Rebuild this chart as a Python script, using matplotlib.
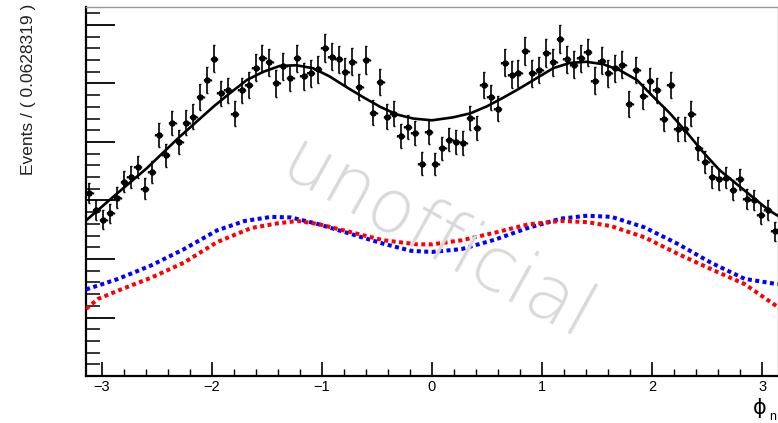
import matplotlib
matplotlib.use("Agg")
import matplotlib.pyplot as plt
import numpy as np

plt.rcParams['font.family'] = ['Liberation Sans', 'DejaVu Sans']

# phi_n histogram, 100 bins over [-pi, pi]
n_bins = 100
counts = [313, 284, 267, 278, 305, 332, 340, 357, 320, 349,
          412, 377, 432, 400, 433, 443, 477, 506, 542, 483,
          488, 448, 488, 497, 527, 543, 536, 500, 529, 509,
          543, 512, 517, 524, 560, 546, 541, 520, 537, 494,
          540, 450, 502, 443, 448, 410, 426, 416, 363, 417,
          362, 389, 404, 400, 398, 441, 424, 497, 476, 457,
          535, 515, 517, 555, 517, 523, 552, 536, 576, 541,
          532, 543, 553, 505, 539, 517, 526, 532, 465, 523,
          478, 504, 488, 439, 497, 422, 422, 448, 389, 366,
          340, 336, 339, 318, 336, 303, 301, 276, 284, 247]

# total fit
fit_x = [-3.14, -2.89, -2.59, -2.29, -1.98, -1.83, -1.68, -1.53, -1.38, -1.23,
         -1.08, -0.93, -0.77, -0.62, -0.47, -0.32, -0.17, 0.0, 0.19, 0.35,
         0.50, 0.65, 0.80, 0.95, 1.10, 1.25, 1.40, 1.55, 1.70, 1.86,
         2.01, 2.16, 2.31, 2.46, 2.61, 2.76, 2.91, 3.06, 3.14]
fit_y = [266, 307, 355, 409, 461, 484, 506, 520, 530, 531,
         526, 512, 493, 476, 460, 447, 440, 437, 442, 449,
         461, 476, 492, 509, 526, 535, 537, 533, 523, 506,
         477, 449, 417, 383, 352, 329, 306, 283, 274]

# components
blue_x = [-3.14, -2.85, -2.55, -2.25, -1.95, -1.70, -1.46, -1.28, -1.04, -0.74,
          -0.44, -0.19, 0.0, 0.27, 0.57, 0.87, 1.17, 1.41, 1.63, 1.93,
          2.23, 2.53, 2.84, 3.14]
blue_y = [148, 166, 189, 217, 249, 265, 272, 271, 260, 243,
          226, 214, 212, 217, 233, 253, 269, 274, 272, 254,
          226, 194, 166, 157]
red_x = [-3.14, -3.03, -2.85, -2.55, -2.25, -1.95, -1.64, -1.40, -1.22, -1.04,
         -0.74, -0.44, -0.13, 0.0, 0.27, 0.57, 0.87, 1.17, 1.41, 1.63,
         1.93, 2.23, 2.53, 2.84, 3.14]
red_y = [115, 132, 146, 168, 194, 229, 253, 261, 265, 260,
         246, 232, 225, 225, 232, 245, 259, 265, 263, 256,
         237, 209, 183, 157, 118]

edges = np.linspace(-np.pi, np.pi, n_bins + 1)
centers = 0.5 * (edges[:-1] + edges[1:])
half_w = 0.5 * (edges[1] - edges[0])
counts = np.array(counts)

fig = plt.figure(figsize=(7.78, 4.23), dpi=100)
ax = fig.add_axes([0.1105, 0.111, 0.8895, 0.873])

fig.text(0.562, 0.43, "unofficial", rotation=-29, color="#d9d9d9",
         fontsize=54, family="DejaVu Sans", fontweight="light",
         ha="center", va="center", zorder=0)

ax.errorbar(centers, counts, yerr=np.sqrt(counts), xerr=half_w, fmt="o",
            color="black", ms=3.6, elinewidth=1.2, capsize=1, zorder=4)
ax.plot(fit_x, fit_y, color="black", lw=1.9, zorder=5)
ax.plot(blue_x, blue_y, color="#0000ff", lw=2.9, linestyle=(0, (1, 0.85)), zorder=3)
ax.plot(red_x, red_y, color="#ff0000", lw=2.9, linestyle=(0, (1, 0.85)), zorder=3)

ax.set_xlim(-np.pi, np.pi)
ax.set_ylim(0, 631)
ax.patch.set_alpha(0)

ax.set_xticks([-3, -2, -1, 0, 1, 2, 3])
ax.set_xticks(np.arange(-3.0, 3.01, 0.2), minor=True)
ax.set_yticks(np.arange(0, 601, 100))
ax.set_yticks(np.arange(0, 631, 20), minor=True)
ax.set_yticklabels([])
ax.tick_params(axis="x", which="major", direction="in", length=10, width=1.2,
               labelsize=10.5, pad=3, top=False)
ax.tick_params(axis="x", which="minor", direction="in", length=5, width=1.0, top=False)
ax.tick_params(axis="y", which="major", direction="in", length=21, width=1.3, right=False)
ax.tick_params(axis="y", which="minor", direction="in", length=10, width=1.1, right=False)

for side in ["left", "bottom"]:
    ax.spines[side].set_linewidth(1.6)
for side in ["top", "right"]:
    ax.spines[side].set_color("#999999")
    ax.spines[side].set_linewidth(1.0)

fig.text(0.036, 0.99, "Events / ( 0.0628319 )", rotation=90, fontsize=12.5,
         color="#222222", ha="center", va="top")
# phi_n axis title, upright phi with subscript
fig.text(0.976, 0.035, "\u03d5", fontsize=15, family="DejaVu Sans",
         ha="center", va="center")
fig.text(0.9925, 0.014, "n", fontsize=9, ha="center", va="center")

fig.savefig("out.png", dpi=100)
